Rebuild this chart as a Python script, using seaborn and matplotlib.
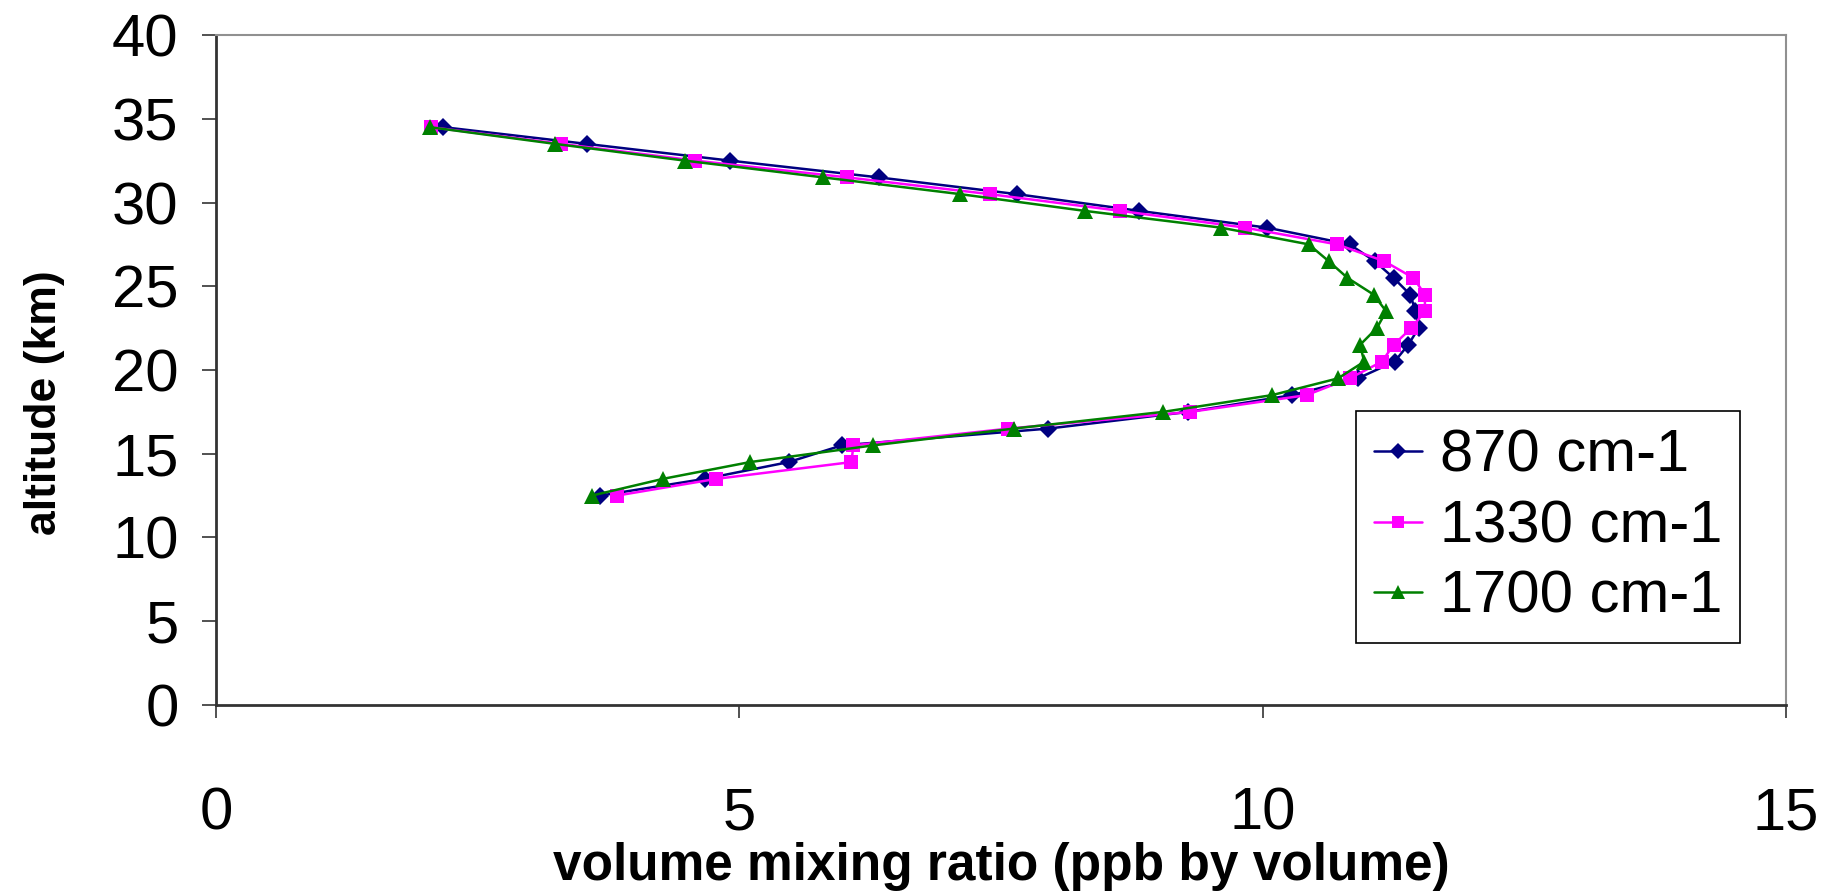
import matplotlib
matplotlib.use("Agg")
import matplotlib.pyplot as plt
import seaborn as sns
import pandas as pd

# ---- data ----
altitude_km = [12.5, 13.5, 14.5, 15.5, 16.5, 17.5, 18.5, 19.5, 20.5, 21.5, 22.5, 23.5,
               24.5, 25.5, 26.5, 27.5, 28.5, 29.5, 30.5, 31.5, 32.5, 33.5, 34.5]
vmr_870 = [3.67, 4.67, 5.47, 5.98, 7.95, 9.29, 10.28, 10.91, 11.26, 11.39, 11.49, 11.46,
           11.41, 11.25, 11.07, 10.83, 10.04, 8.82, 7.65, 6.33, 4.91, 3.54, 2.17]
vmr_1330 = [3.83, 4.78, 6.07, 6.09, 7.57, 9.31, 10.42, 10.83, 11.14, 11.25, 11.42, 11.55,
            11.55, 11.44, 11.16, 10.71, 9.83, 8.64, 7.39, 6.03, 4.58, 3.30, 2.05]
vmr_1700 = [3.59, 4.27, 5.10, 6.28, 7.62, 9.05, 10.09, 10.72, 10.97, 10.93, 11.09, 11.18,
            11.06, 10.81, 10.63, 10.44, 9.60, 8.30, 7.11, 5.80, 4.48, 3.24, 2.04]
series_labels = ["870 cm-1", "1330 cm-1", "1700 cm-1"]
x_ticks = [0, 5, 10, 15]
y_ticks = [0, 5, 10, 15, 20, 25, 30, 35, 40]

sns.set_theme(style="white")
plt.rcParams["font.family"] = ["Liberation Sans", "DejaVu Sans"]
plt.rcParams["text.color"] = "black"
plt.rcParams["axes.labelcolor"] = "black"
plt.rcParams["xtick.color"] = "black"
plt.rcParams["ytick.color"] = "black"

fig = plt.figure(figsize=(18.42, 8.91), dpi=100)
ax = fig.add_axes([0.1173, 0.2088, 0.9696 - 0.1173, 0.9607 - 0.2088])

styles = [
    dict(color="#000080", marker="D", markersize=9, markeredgewidth=0),
    dict(color="#FF00FF", marker="s", markersize=10, markeredgewidth=0),
    dict(color="#008000", marker="^", markersize=12, markeredgewidth=0),
]
for vals, lab, st in zip([vmr_870, vmr_1330, vmr_1700], series_labels, styles):
    df = pd.DataFrame({"vmr": vals, "alt": altitude_km})
    sns.lineplot(data=df, x="vmr", y="alt", sort=False, estimator=None, ax=ax,
                 label=lab, linewidth=1.8, **st)

ax.set_xlim(0, 15)
ax.set_ylim(0, 40)
ax.set_xticks(x_ticks)
ax.set_yticks(y_ticks)
ax.set_xticklabels([str(v) for v in x_ticks])
ax.set_yticklabels([str(v) for v in y_ticks])
ax.tick_params(axis="x", direction="out", length=9, width=1.2, color="#333333",
               labelsize=43, pad=50, bottom=True, labelcolor="black")
ax.tick_params(axis="y", direction="out", length=10, width=1.2, color="#333333",
               labelsize=43, pad=17, left=True, labelcolor="black")

for side in ["left", "bottom"]:
    ax.spines[side].set_color("#333333")
    ax.spines[side].set_linewidth(2.0)
for side in ["top", "right"]:
    ax.spines[side].set_color("#909090")
    ax.spines[side].set_linewidth(1.5)

ax.set_xlabel("volume mixing ratio (ppb by volume)", fontsize=37, fontweight="bold",
              labelpad=0, color="black")
ax.set_ylabel("altitude (km)", fontsize=32, fontweight="bold", color="black")
ax.yaxis.set_label_coords(-0.096, 0.451)

leg = ax.legend(loc="upper right", bbox_to_anchor=(0.9446, 0.5387),
                bbox_transform=fig.transFigure, borderaxespad=0, fontsize=43,
                frameon=True, fancybox=False, shadow=False, framealpha=1,
                edgecolor="black", handlelength=0.8, handletextpad=0.3,
                labelspacing=0.26, borderpad=0.3, markerscale=0.85)
leg.get_frame().set_linewidth(1.2)

fig.savefig("out.png", dpi=100, facecolor="white")
